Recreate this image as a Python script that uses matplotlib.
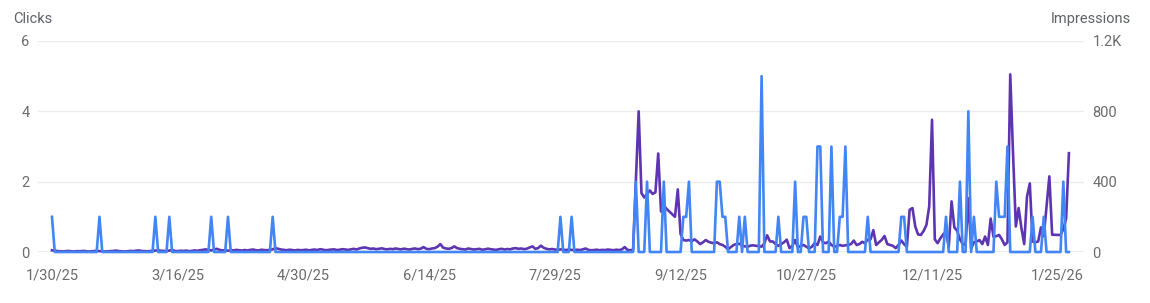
import numpy as np
import pandas as pd
import matplotlib
matplotlib.use("Agg")
import matplotlib.pyplot as plt

# daily data, 1/30/25 .. 1/29/26
start = "2025-01-30"
n_days = 365

impressions = [
    10, 8, 5, 4, 3, 5, 6, 4, 3, 5, 4, 6, 5, 3, 4, 5, 7, 5, 4, 3,
    4, 5, 6, 8, 5, 4, 3, 4, 6, 5, 7, 9, 6, 5, 4, 5, 6, 8, 10, 7,
    6, 5, 8, 12, 6, 5, 7, 6, 8, 5, 6, 9, 7, 10, 12, 15, 11, 9, 14, 18,
    12, 9, 10, 7, 11, 9, 12, 10, 8, 11, 9, 12, 14, 10, 9, 13, 11, 10, 12, 15,
    22, 18, 14, 12, 10, 13, 11, 9, 12, 10, 11, 13, 9, 12, 14, 11, 16, 13, 10, 12,
    14, 15, 11, 13, 16, 14, 12, 15, 18, 14, 20, 24, 26, 22, 18, 20, 16, 18, 21, 17,
    15, 18, 16, 20, 17, 15, 19, 16, 14, 18, 20, 16, 19, 28, 18, 16, 20, 22, 30, 45,
    25, 20, 18, 22, 32, 22, 18, 16, 14, 20, 17, 14, 16, 18, 13, 15, 19, 16, 14, 12,
    16, 18, 14, 17, 15, 20, 22, 18, 20, 16, 19, 26, 32, 18, 22, 36, 24, 18, 15, 17,
    14, 12, 15, 13, 11, 14, 12, 10, 13, 11, 15, 20, 12, 10, 11, 13, 10, 12, 11, 14,
    12, 10, 13, 11, 15, 28, 12, 10, 12, 400, 800, 335, 310, 330, 350, 330, 340, 560, 230, 265,
    245, 230, 215, 200, 356, 102, 68, 65, 68, 62, 72, 60, 45, 55, 68, 58, 53, 50, 55, 45,
    40, 30, 15, 28, 40, 45, 47, 38, 32, 30, 36, 38, 35, 35, 30, 50, 95, 60, 60, 45,
    35, 45, 55, 70, 22, 35, 68, 25, 35, 40, 30, 20, 30, 50, 40, 88, 55, 50, 59, 40,
    30, 35, 40, 35, 38, 40, 45, 65, 40, 45, 58, 50, 70, 72, 124, 40, 55, 69, 91, 45,
    40, 35, 22, 40, 65, 45, 30, 240, 250, 145, 100, 97, 120, 154, 260, 752, 72, 50, 78, 100,
    116, 30, 288, 140, 120, 72, 45, 40, 305, 20, 55, 60, 68, 45, 88, 40, 190, 87, 90, 97,
    72, 40, 55, 1010, 560, 145, 250, 136, 45, 315, 390, 60, 55, 60, 140, 90, 260, 430, 98, 98,
    97, 97, 130, 190, 562,
]

# days (index from start) with non-zero clicks
click_days = [0, 17, 37, 42, 57, 63, 79, 182, 186,
              209, 213, 219, 226, 227, 228, 238, 239, 240, 241, 246, 248,
              254, 260, 266, 269, 270, 274, 275, 279, 282, 283, 284, 292,
              304, 305, 320, 325, 328, 330, 338, 339, 340, 341, 342,
              351, 355, 362]
click_values = [1, 1, 1, 1, 1, 1, 1, 1, 1,
                2, 2, 2, 1, 1, 2, 2, 2, 1, 1, 1, 1,
                5, 1, 2, 1, 1, 3, 3, 3, 1, 1, 3, 1,
                1, 1, 1, 2, 4, 1, 2, 1, 1, 1, 3,
                1, 1, 2]

click_ticks = [0, 2, 4, 6]
impr_ticks = [0, 400, 800, 1200]
impr_labels = ["0", "400", "800", "1.2K"]

dates = pd.date_range(start, periods=n_days, freq="D")
clicks = np.zeros(n_days)
clicks[click_days] = click_values

plt.rcParams['font.family'] = ['Roboto', 'DejaVu Sans']

W, H = 1150, 303
fig = plt.figure(figsize=(W / 100, H / 100), dpi=100)
ax = fig.add_axes([38 / W, 51 / H, 1046 / W, 211 / H])
ax2 = ax.twinx()
ax.set_zorder(ax2.get_zorder() + 1)
ax.patch.set_visible(False)

for v in impr_ticks[1:]:
    ax2.axhline(v, color='#ebebeb', lw=1, zorder=0)
ax2.axhline(0, color='#9e9e9e', lw=1, zorder=0)

ax2.plot(dates, impressions, color='#5e35b1', lw=1.9, clip_on=False,
         solid_joinstyle='round')
ax.plot(dates, clicks, color='#4285f4', lw=1.9, clip_on=False,
        solid_joinstyle='round')

ax.set_ylim(0, 6)
ax2.set_ylim(0, 1200)
ax.set_xlim(dates[0] - pd.Timedelta(days=5), dates[0] + pd.Timedelta(days=369.4))

ax.set_yticks(click_ticks)
ax.set_yticklabels([str(t) for t in click_ticks])
ax2.set_yticks(impr_ticks)
ax2.set_yticklabels(impr_labels)

xt = dates[::45]
ax.set_xticks(xt)
ax.set_xticklabels([f"{d.month}/{d.day}/{d.strftime('%y')}" for d in xt])

for a in (ax, ax2):
    for s in a.spines.values():
        s.set_visible(False)
    a.tick_params(length=0, labelsize=10.5, colors='#6b6b6b')
ax.tick_params(axis='y', pad=6)
ax2.tick_params(axis='y', pad=6)
ax.tick_params(axis='x', pad=12)

fig.text(13 / W, 1 - 19 / H, "Clicks", ha='left', va='center',
         fontsize=10.5, color='#5f6368')
fig.text(1131 / W, 1 - 19 / H, "Impressions", ha='right', va='center',
         fontsize=10.5, color='#5f6368')

fig.savefig("out.png", dpi=100)
